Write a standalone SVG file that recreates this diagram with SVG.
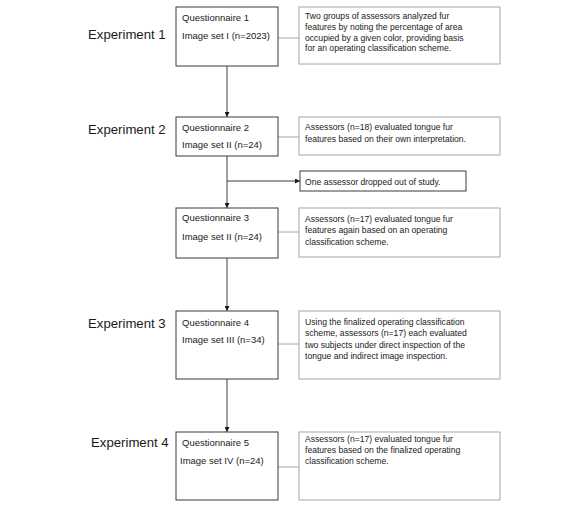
<svg xmlns="http://www.w3.org/2000/svg" width="578" height="507" viewBox="0 0 578 507">
<style>
.bg{fill:#ffffff}
.lbox{fill:#ffffff;stroke:#3a3a3a;stroke-width:1}
.rbox{fill:#ffffff;stroke:#a6a6a6;stroke-width:1}
.dbox{fill:#ffffff;stroke:#3a3a3a;stroke-width:1}
.exp{font-family:"Liberation Sans",Arial,sans-serif;font-size:13.2px;fill:#1a1a1a}
.lt{font-family:"Liberation Sans",Arial,sans-serif;font-size:9.5px;fill:#1a1a1a}
.rt{font-family:"Liberation Sans",Arial,sans-serif;font-size:8.6px;fill:#1a1a1a}
.vline{stroke:#7f7f7f;stroke-width:1.5;fill:none}
.hline{stroke:#a6a6a6;stroke-width:1;fill:none}
.bline{stroke:#3a3a3a;stroke-width:1;fill:none}
</style>
<defs>
<marker id="arr" viewBox="0 0 10 10" refX="10" refY="5" markerWidth="5" markerHeight="5" markerUnits="userSpaceOnUse" orient="auto">
<path d="M0,0 L10,5 L0,10 z" fill="#1a1a1a"/>
</marker>
</defs>
<rect class="bg" x="0" y="0" width="578" height="507"/>
<g id="connectors">
<line class="vline" x1="227" y1="66" x2="227" y2="117" marker-end="url(#arr)"/>
<line class="vline" x1="227" y1="156" x2="227" y2="208" marker-end="url(#arr)"/>
<line class="bline" x1="227" y1="181" x2="300" y2="181" marker-end="url(#arr)"/>
<line class="vline" x1="227" y1="258" x2="227" y2="311" marker-end="url(#arr)"/>
<line class="vline" x1="227" y1="379" x2="227" y2="432" marker-end="url(#arr)"/>
<line class="hline" x1="278" y1="38" x2="299" y2="38"/>
<line class="hline" x1="278" y1="137" x2="299" y2="137"/>
<line class="hline" x1="278" y1="232" x2="299" y2="232"/>
<line class="hline" x1="278" y1="344" x2="299" y2="344"/>
<line class="hline" x1="278" y1="467" x2="299" y2="467"/>
</g>
<g id="labels">
<text class="exp" x="88" y="39">Experiment 1</text>
<text class="exp" x="88" y="134">Experiment 2</text>
<text class="exp" x="88" y="328">Experiment 3</text>
<text class="exp" x="91" y="447">Experiment 4</text>
</g>
<g id="q1">
<rect class="lbox" x="176" y="7" width="102" height="59"/>
<text class="lt" x="182" y="20.5">Questionnaire 1</text>
<text class="lt" x="182" y="39">Image set I (n=2023)</text>
</g>
<g id="d1">
<rect class="rbox" x="299" y="7" width="201" height="57"/>
<text class="rt" x="305" y="19">Two groups of assessors analyzed fur</text>
<text class="rt" x="305" y="30">features by noting the percentage of area</text>
<text class="rt" x="305" y="40.5">occupied by a given color, providing basis</text>
<text class="rt" x="305" y="51">for an operating classification scheme.</text>
</g>
<g id="q2">
<rect class="lbox" x="176" y="117" width="102" height="39"/>
<text class="lt" x="182" y="130.5">Questionnaire 2</text>
<text class="lt" x="182" y="148">Image set II (n=24)</text>
</g>
<g id="d2">
<rect class="rbox" x="299" y="117" width="201" height="38"/>
<text class="rt" x="305" y="129.5">Assessors (n=18) evaluated tongue fur</text>
<text class="rt" x="305" y="142">features based on their own interpretation.</text>
</g>
<g id="drop">
<rect class="dbox" x="300" y="171" width="166" height="20"/>
<text class="rt" x="305" y="184.5">One assessor dropped out of study.</text>
</g>
<g id="q3">
<rect class="lbox" x="176" y="208" width="102" height="50"/>
<text class="lt" x="182" y="220.5">Questionnaire 3</text>
<text class="lt" x="182" y="240">Image set II (n=24)</text>
</g>
<g id="d3">
<rect class="rbox" x="299" y="208" width="201" height="49"/>
<text class="rt" x="305" y="221.5">Assessors (n=17) evaluated tongue fur</text>
<text class="rt" x="305" y="233">features again based on an operating</text>
<text class="rt" x="305" y="245">classification scheme.</text>
</g>
<g id="q4">
<rect class="lbox" x="176" y="311" width="102" height="68"/>
<text class="lt" x="182" y="325.5">Questionnaire 4</text>
<text class="lt" x="182" y="343">Image set III (n=34)</text>
</g>
<g id="d4">
<rect class="rbox" x="299" y="311" width="201" height="68"/>
<text class="rt" x="305" y="324.5">Using the finalized operating classification</text>
<text class="rt" x="305" y="336">scheme, assessors (n=17) each evaluated</text>
<text class="rt" x="305" y="347.5">two subjects under direct inspection of the</text>
<text class="rt" x="305" y="359">tongue and indirect image inspection.</text>
</g>
<g id="q5">
<rect class="lbox" x="176" y="432" width="102" height="68"/>
<text class="lt" x="182" y="445.5">Questionnaire 5</text>
<text class="lt" x="180" y="464">Image set IV (n=24)</text>
</g>
<g id="d5">
<rect class="rbox" x="299" y="432" width="201" height="68"/>
<text class="rt" x="305" y="441.5">Assessors (n=17) evaluated tongue fur</text>
<text class="rt" x="305" y="452.5">features based on the finalized operating</text>
<text class="rt" x="305" y="463.5">classification scheme.</text>
</g>
</svg>
